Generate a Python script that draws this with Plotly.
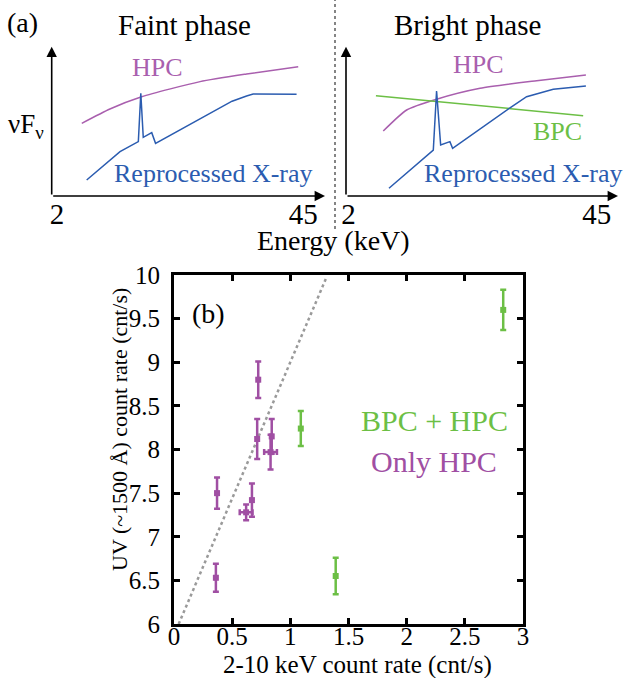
import plotly.graph_objects as go

W, H = 627, 678

# ---------------- data: panel (b) ----------------
hpc_x = [0.37, 0.36, 0.62, 0.67, 0.715, 0.724, 0.83, 0.84]
hpc_y = [7.50, 6.53, 7.28, 7.42, 8.12, 8.80, 7.97, 8.15]
hpc_xerr = [0.0, 0.0, 0.055, 0.0, 0.0, 0.0, 0.055, 0.0]
hpc_yerr = [0.18, 0.16, 0.09, 0.19, 0.23, 0.21, 0.20, 0.20]

bpc_x = [1.09, 1.39, 2.83]
bpc_y = [8.24, 6.55, 9.60]
bpc_yerr = [0.20, 0.21, 0.23]

trend_x = [0.04, 1.31]
trend_y = [6.0, 9.97]

b_xticks = [0, 0.5, 1, 1.5, 2, 2.5, 3]
b_xticklabels = ["0", "0.5", "1", "1.5", "2", "2.5", "3"]
b_yticks = [6, 6.5, 7, 7.5, 8, 8.5, 9, 9.5, 10]
b_yticklabels = ["6", "6.5", "7", "7.5", "8", "8.5", "9", "9.5", "10"]

# ---------------- data: panel (a), schematic curves (arbitrary units 0-100) ----------------
faint_hpc_x = [11.0, 21.3, 32.9, 54.3, 71.3, 90.2]
faint_hpc_y = [48.7, 58.3, 66.5, 76.6, 81.7, 86.6]
faint_xray_x = [12.8, 25.0, 31.7, 32.6, 33.5, 36.6, 38.0, 66.0, 71.3, 73.7, 89.6]
faint_xray_y = [10.7, 29.7, 36.4, 68.8, 39.3, 42.4, 35.3, 63.5, 67.0, 68.3, 68.1]

bright_hpc_x = [13.7, 22.3, 33.3, 49.3, 70.1, 88.2]
bright_hpc_y = [43.5, 57.6, 64.8, 72.1, 77.2, 81.0]
bright_bpc_x = [11.0, 87.2]
bright_bpc_y = [67.2, 53.8]
bright_xray_x = [15.8, 32.1, 33.3, 34.8, 38.2, 39.2, 60.3, 66.4, 76.2, 88.2]
bright_xray_y = [5.2, 30.8, 70.3, 34.2, 36.4, 31.9, 59.1, 66.5, 71.5, 73.7]

energy_ticks_faint = [1.9, 92.0]
energy_ticks_bright = [0.9, 92.2]
energy_ticklabels = ["2", "45"]

# ---------------- styles ----------------
FONT = "Liberation Serif"
PURPLE_LINE = "#a95fae"
PURPLE = "#a04fa3"
GREEN = "#6cbf45"
BLUE = "#2b5cb0"


def px(x):
    return x / W


def py(y):
    return 1 - y / H


fig = go.Figure()

# panel (b)
fig.add_trace(go.Scatter(
    x=trend_x, y=trend_y, mode="lines",
    line=dict(color="#9a9a9a", width=2.5, dash="dot"),
    xaxis="x", yaxis="y", hoverinfo="skip"))
fig.add_trace(go.Scatter(
    x=hpc_x, y=hpc_y, mode="markers",
    marker=dict(symbol="square", size=6, color=PURPLE),
    error_y=dict(type="data", array=hpc_yerr, color=PURPLE, thickness=2.5, width=3),
    error_x=dict(type="data", array=hpc_xerr, color=PURPLE, thickness=2.5, width=3),
    xaxis="x", yaxis="y"))
fig.add_trace(go.Scatter(
    x=bpc_x, y=bpc_y, mode="markers",
    marker=dict(symbol="square", size=6, color=GREEN),
    error_y=dict(type="data", array=bpc_yerr, color=GREEN, thickness=2.5, width=3),
    xaxis="x", yaxis="y"))

# panel (a) faint
fig.add_trace(go.Scatter(x=faint_hpc_x, y=faint_hpc_y, mode="lines",
                         line=dict(color=PURPLE_LINE, width=1.5, shape="spline", smoothing=0.6),
                         xaxis="x2", yaxis="y2"))
fig.add_trace(go.Scatter(x=faint_xray_x, y=faint_xray_y, mode="lines",
                         line=dict(color=BLUE, width=1.5),
                         xaxis="x2", yaxis="y2"))
# panel (a) bright
fig.add_trace(go.Scatter(x=bright_hpc_x, y=bright_hpc_y, mode="lines",
                         line=dict(color=PURPLE_LINE, width=1.5, shape="spline", smoothing=0.6),
                         xaxis="x3", yaxis="y3"))
fig.add_trace(go.Scatter(x=bright_bpc_x, y=bright_bpc_y, mode="lines",
                         line=dict(color=GREEN, width=1.5),
                         xaxis="x3", yaxis="y3"))
fig.add_trace(go.Scatter(x=bright_xray_x, y=bright_xray_y, mode="lines",
                         line=dict(color=BLUE, width=1.5),
                         xaxis="x3", yaxis="y3"))

tickfont = dict(family=FONT, size=25, color="black")
axis_common = dict(showline=True, linewidth=3, linecolor="black", mirror="ticks",
                   ticks="inside", ticklen=6, tickwidth=2.5, tickcolor="black",
                   showgrid=False, zeroline=False, tickfont=tickfont, automargin=False)

schem_x = dict(range=[0, 100], showgrid=False, zeroline=False, showline=False,
               ticks="", tickfont=dict(family=FONT, size=29, color="black"),
               ticktext=energy_ticklabels, tickmode="array", automargin=False)
schem_y = dict(range=[0, 100], visible=False, automargin=False)

fig.update_layout(
    width=W, height=H,
    margin=dict(l=0, r=0, t=0, b=0, autoexpand=False),
    paper_bgcolor="white", plot_bgcolor="rgba(0,0,0,0)",
    showlegend=False,
    font=dict(family=FONT, color="black"),
    xaxis=dict(domain=[px(174), px(523)], range=[0, 3], anchor="y",
               tickvals=b_xticks, ticktext=b_xticklabels,
               ticklabelstandoff=-12, **axis_common),
    yaxis=dict(domain=[py(624), py(275)], range=[6, 10], anchor="x",
               tickvals=b_yticks, ticktext=b_yticklabels,
               ticklabelstandoff=6, **axis_common),
    xaxis2=dict(domain=[px(51.7), px(325)], anchor="free", position=py(194),
                tickvals=energy_ticks_faint, **schem_x),
    yaxis2=dict(domain=[py(196), py(46.7)], anchor="x2", **schem_y),
    xaxis3=dict(domain=[px(346), px(618)], anchor="free", position=py(194),
                tickvals=energy_ticks_bright, **schem_x),
    yaxis3=dict(domain=[py(196), py(46.7)], anchor="x3", **schem_y),
)

# arrows for schematic axes
for xa, ya in (("x2", "y2"), ("x3", "y3")):
    for (hx, hy) in ((100, 0), (0, 100)):
        fig.add_annotation(x=hx, y=hy, ax=0, ay=0, xref=xa, yref=ya,
                           axref=xa, ayref=ya, text="", showarrow=True,
                           arrowhead=2, arrowsize=1.3, arrowwidth=1.6, arrowcolor="black")

# divider
fig.add_shape(type="line", xref="paper", yref="paper",
              x0=px(335), x1=px(335), y0=py(229), y1=py(0),
              line=dict(color="#444444", width=1.3, dash="dot"))


def label(text, x, y, size, color="black", angle=0):
    fig.add_annotation(x=px(x), y=py(y), xref="paper", yref="paper", text=text,
                       showarrow=False, xanchor="center", yanchor="middle",
                       textangle=angle,
                       font=dict(family=FONT, size=size, color=color))


label("(a)", 22, 23, 28)
label("Faint phase", 184, 25, 29)
label("Bright phase", 467, 25, 29)
label("νF<sub>ν</sub>", 26, 126, 27)
label("Energy (keV)", 333, 240, 28)
label("HPC", 157, 68, 26, PURPLE_LINE)
label("Reprocessed X-ray", 213, 173, 26, BLUE)
label("HPC", 478, 65, 26, PURPLE_LINE)
label("BPC", 557, 132, 26, GREEN)
label("Reprocessed X-ray", 523, 173, 26, BLUE)

# panel (b) labels
label("(b)", 208, 313, 28)
label("BPC + HPC", 434, 420, 30, GREEN)
label("Only HPC", 434, 462, 30, PURPLE)
label("2-10 keV count rate (cnt/s)", 357, 665, 25)
label("UV (~1500 Å) count rate (cnt/s)", 120, 430, 22, angle=-90)

fig.write_html("out.html",
               config={"displayModeBar": False},
               post_script="document.body.style.margin='0';document.body.style.padding='0';")
